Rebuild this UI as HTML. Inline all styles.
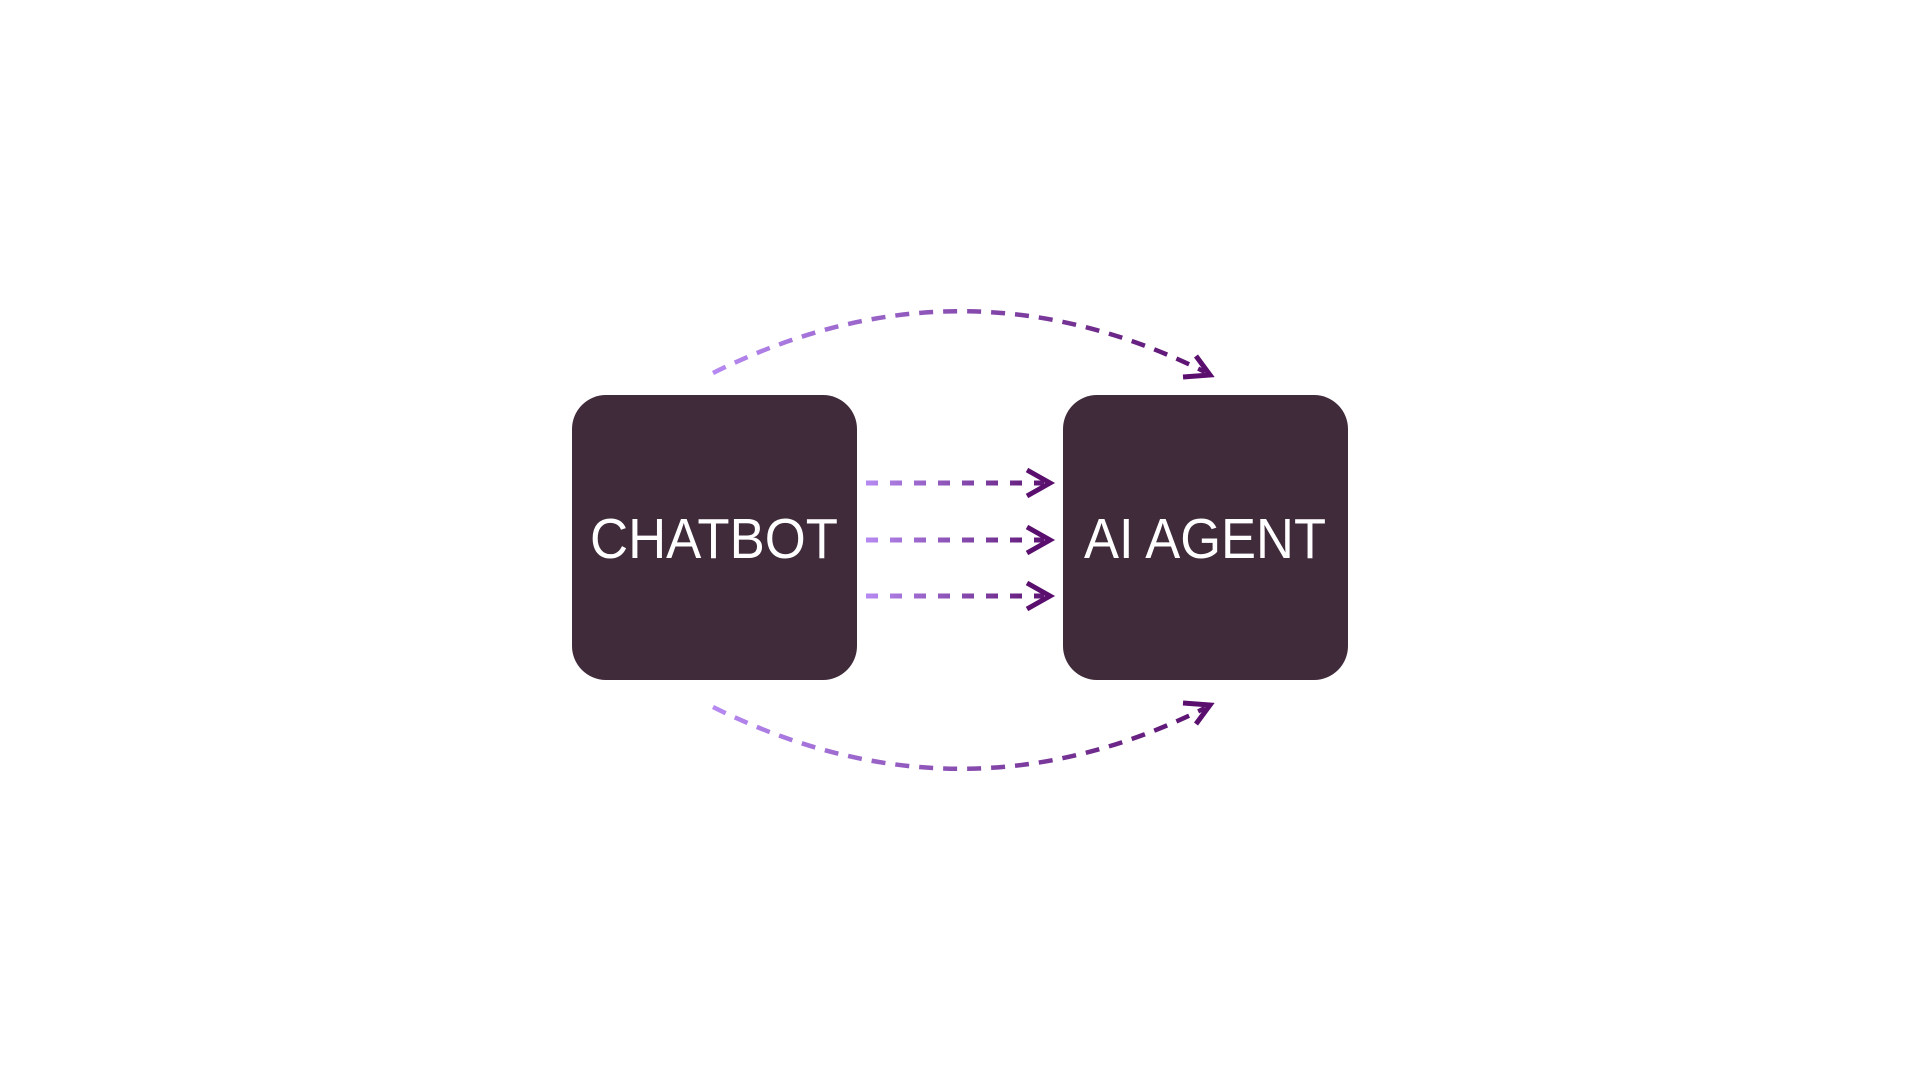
<!DOCTYPE html>
<html><head><meta charset="utf-8"><style>html,body{margin:0;padding:0;background:#fff;}svg{display:block}</style></head>
<body>
<svg width="1920" height="1080" viewBox="0 0 1920 1080" xmlns="http://www.w3.org/2000/svg">
<defs>
<linearGradient id="g" gradientUnits="userSpaceOnUse" x1="866" y1="0" x2="1052" y2="0">
<stop offset="0" stop-color="#b68af2"/><stop offset="1" stop-color="#5a0f6e"/></linearGradient>
<linearGradient id="g2" gradientUnits="userSpaceOnUse" x1="713" y1="0" x2="1210" y2="0">
<stop offset="0" stop-color="#b68af2"/><stop offset="1" stop-color="#5a0f6e"/></linearGradient>
</defs>
<rect x="572" y="395" width="285" height="285" rx="34" fill="#402b3b"/>
<rect x="1063" y="395" width="285" height="285" rx="34" fill="#402b3b"/>
<text x="590" y="558" font-family="Liberation Sans, sans-serif" font-size="57" fill="#fff" textLength="248" lengthAdjust="spacingAndGlyphs">CHATBOT</text>
<text x="1084" y="558" font-family="Liberation Sans, sans-serif" font-size="57" fill="#fff" textLength="242" lengthAdjust="spacingAndGlyphs">AI AGENT</text>
<g stroke="url(#g)" stroke-width="5" fill="none">
<path d="M866 483 H1044" stroke-dasharray="12 12"/>
<path d="M866 540 H1044" stroke-dasharray="12 12"/>
<path d="M866 596 H1044" stroke-dasharray="12 12"/>
</g>
<g stroke="#5a0f6e" stroke-width="5" fill="none">
<path d="M1027 470 L1050 483 L1027 496"/>
<path d="M1027 527 L1050 540 L1027 553"/>
<path d="M1027 583 L1050 596 L1027 609"/>
</g>
<g stroke="url(#g2)" stroke-width="4.5" fill="none" stroke-dasharray="14 10">
<path d="M713 373 Q960 250 1205 372"/>
<path d="M713 707 Q960 830 1205 708"/>
</g>
<g stroke="#5a0f6e" stroke-width="5" fill="none">
<path d="M1196 356 L1210 375 L1183 377"/>
<path d="M1196 724 L1210 705 L1183 703"/>
</g>
</svg>
</body></html>
